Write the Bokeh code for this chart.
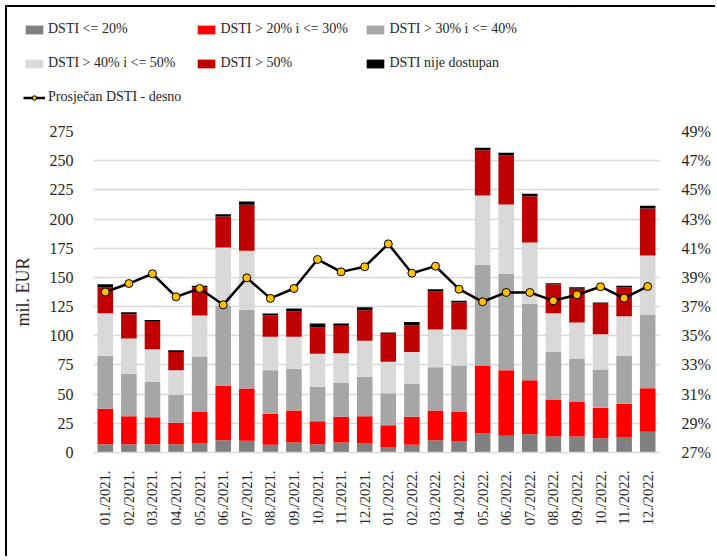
import math
from bokeh.plotting import figure
from bokeh.layouts import column
from bokeh.models import (ColumnDataSource, FactorRange, Range1d, LinearAxis, FixedTicker,
                          PrintfTickFormatter, Legend, LegendItem)
from bokeh.embed import file_html
from bokeh.resources import INLINE

months = ["01./2021.", "02./2021.", "03./2021.", "04./2021.", "05./2021.", "06./2021.",
          "07./2021.", "08./2021.", "09./2021.", "10./2021.", "11./2021.", "12./2021.",
          "01./2022.", "02./2022.", "03./2022.", "04./2022.", "05./2022.", "06./2022.",
          "07./2022.", "08./2022.", "09./2022.", "10./2022.", "11./2022.", "12./2022."]

dsti_le20 = [7.1, 7.1, 7.1, 7.1, 7.7, 10.6, 10.0, 6.6, 8.6, 7.1, 8.6, 7.7,
             4.3, 6.6, 10.6, 9.4, 16.3, 14.3, 15.7, 13.7, 13.7, 12.3, 12.9, 17.7]
dsti_20_30 = [30.3, 24.0, 23.2, 18.3, 27.4, 46.5, 44.8, 26.5, 27.4, 19.7, 22.0, 23.4,
              19.1, 24.0, 25.4, 25.7, 58.2, 56.2, 46.3, 31.7, 30.0, 26.0, 28.8, 37.4]
dsti_30_40 = [45.4, 36.3, 30.2, 24.0, 47.1, 68.5, 67.4, 37.4, 35.7, 29.5, 29.4, 33.7,
              27.4, 28.5, 37.1, 39.4, 86.3, 82.5, 65.4, 40.6, 36.5, 32.8, 41.4, 63.1]
dsti_40_50 = [36.6, 30.3, 28.0, 21.1, 35.2, 50.0, 50.6, 28.6, 27.4, 28.2, 25.1, 30.9,
              26.9, 26.9, 32.3, 30.9, 59.4, 59.4, 52.5, 33.4, 31.2, 30.3, 33.7, 50.6]
dsti_gt50 = [22.0, 20.8, 23.5, 15.7, 23.9, 26.6, 39.4, 18.5, 21.7, 22.6, 23.4, 26.2,
             24.0, 22.8, 32.5, 23.4, 38.8, 42.3, 39.7, 24.8, 28.8, 26.0, 24.5, 40.2]
dsti_na = [2.8, 1.7, 1.6, 1.5, 1.5, 2.0, 2.8, 1.5, 2.6, 3.4, 2.0, 2.6,
           1.1, 3.1, 2.0, 1.1, 2.0, 2.0, 2.0, 0.9, 1.4, 1.1, 1.5, 2.3]
avg_dsti = [38.00, 38.58, 39.25, 37.67, 38.24, 37.12, 38.97, 37.56, 38.24, 40.23, 39.38, 39.73,
            41.30, 39.29, 39.77, 38.19, 37.33, 37.97, 37.97, 37.40, 37.81, 38.36, 37.58, 38.38]

series_names = ["DSTI <= 20%", "DSTI > 20% i <= 30%", "DSTI > 30% i <= 40%",
                "DSTI > 40% i <= 50%", "DSTI > 50%", "DSTI nije dostupan"]
line_name = "Prosječan DSTI - desno"
left_ticks = list(range(0, 276, 25))
right_ticks = list(range(27, 50, 2))

colors = ["#808080", "#FF0000", "#A6A6A6", "#D9D9D9", "#C00000", "#000000"]
FONT = "Liberation Serif"
TXT = "#262626"
MARKER = "#FFC000"

keys = ["s0", "s1", "s2", "s3", "s4", "s5"]
source = ColumnDataSource(dict(month=months, s0=dsti_le20, s1=dsti_20_30, s2=dsti_30_40,
                               s3=dsti_40_50, s4=dsti_gt50, s5=dsti_na, avg=avg_dsti))

# ---------- main chart ----------
p = figure(x_range=FactorRange(*months), y_range=Range1d(0, 275),
           frame_width=566, frame_height=321,
           min_border_left=86, min_border_right=56, min_border_top=20, min_border_bottom=104,
           output_backend="svg", toolbar_location=None)
p.outline_line_color = None

bars = p.vbar_stack(keys, x="month", width=0.66, color=colors, line_color=None, source=source)

p.extra_y_ranges = {"pct": Range1d(27, 49)}
p.line("month", "avg", source=source, y_range_name="pct", line_color="black", line_width=2.5)
p.scatter("month", "avg", source=source, y_range_name="pct", size=8,
          fill_color=MARKER, line_color="black", line_width=1)

p.xgrid.visible = False
p.ygrid.ticker = FixedTicker(ticks=left_ticks)
p.ygrid.grid_line_color = "#D9D9D9"
p.ygrid.grid_line_width = 1.5

yl = p.yaxis[0]
yl.ticker = FixedTicker(ticks=left_ticks)
yl.axis_line_color = None
yl.major_tick_line_color = None
yl.minor_tick_line_color = None
yl.major_label_text_font = FONT
yl.major_label_text_font_size = "16px"
yl.major_label_text_color = TXT
yl.major_label_standoff = 14
yl.axis_label = "mil. EUR"
yl.axis_label_text_font = FONT
yl.axis_label_text_font_size = "18px"
yl.axis_label_text_font_style = "normal"
yl.axis_label_text_color = TXT
yl.axis_label_standoff = 14

yr = LinearAxis(y_range_name="pct", ticker=FixedTicker(ticks=right_ticks),
                formatter=PrintfTickFormatter(format="%d%%"))
yr.axis_line_color = None
yr.major_tick_line_color = None
yr.minor_tick_line_color = None
yr.major_label_text_font = FONT
yr.major_label_text_font_size = "16px"
yr.major_label_text_color = TXT
yr.major_label_standoff = 16
p.add_layout(yr, "right")

xa = p.xaxis[0]
xa.axis_line_color = "#D9D9D9"
xa.axis_line_width = 1.5
xa.major_tick_line_color = None
xa.minor_tick_line_color = None
xa.major_label_orientation = math.pi / 2
xa.major_label_text_font = FONT
xa.major_label_text_font_size = "14.5px"
xa.major_label_text_color = TXT
xa.major_label_standoff = 12

# ---------- legend panel ----------
lg = figure(width=708, height=104, x_range=Range1d(0, 1), y_range=Range1d(0, 1),
            x_axis_type=None, y_axis_type=None, min_border=0,
            output_backend="svg", toolbar_location=None)
lg.outline_line_color = None
lg.border_fill_alpha = 0
lg.background_fill_alpha = 0
lg.xgrid.visible = False
lg.ygrid.visible = False
lg.styles = {"margin-left": "-86px"}

dummy = []
for c in colors:
    dummy.append(lg.vbar(x=[5], top=[5], bottom=[4], width=0.5, fill_color=c, line_color=None))
dl = lg.line(x=[5, 6], y=[5, 5], line_color="black", line_width=2.5)
ds = lg.scatter(x=[5], y=[5], size=8, fill_color=MARKER, line_color="black", line_width=1)

items = [LegendItem(label=series_names[i], renderers=[dummy[i]]) for i in range(6)]
items.append(LegendItem(label=line_name, renderers=[dl, ds]))
legend = Legend(items=items, orientation="horizontal", ncols=3, location=(16, 4),
                label_text_font=FONT, label_text_font_size="14px", label_text_color=TXT,
                glyph_width=22, glyph_height=11, label_standoff=3, label_width=130,
                label_height=20, spacing=14, padding=0, margin=0,
                border_line_color=None, background_fill_alpha=0)
lg.add_layout(legend)

layout = column(lg, p, spacing=0)
layout.styles = {"margin-left": "5px", "margin-top": "5px",
                 "border-left": "2px solid black", "border-top": "2px solid black"}

open("out.html", "w").write(file_html(layout, INLINE))
